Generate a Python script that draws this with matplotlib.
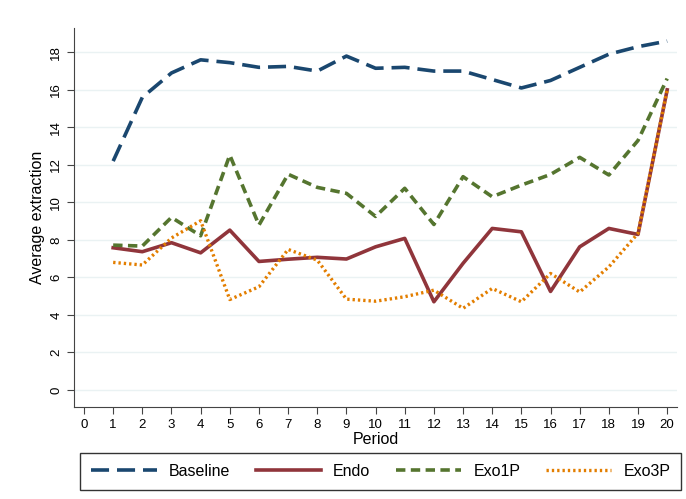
import matplotlib
matplotlib.use("Agg")
import matplotlib.pyplot as plt
import numpy as np

plt.rcParams['font.family'] = ['Liberation Sans', 'DejaVu Sans']

periods = list(range(1, 21))
baseline = [12.2, 15.6, 16.9, 17.6, 17.45, 17.2, 17.25, 17.0, 17.8, 17.15,
            17.2, 17.0, 17.0, 16.55, 16.1, 16.5, 17.2, 17.9, 18.3, 18.6]
endo = [7.58, 7.37, 7.85, 7.31, 8.52, 6.85, 6.97, 7.07, 6.98, 7.63,
        8.08, 4.7, 6.75, 8.61, 8.43, 5.25, 7.63, 8.61, 8.29, 16.0]
exo1p = [7.72, 7.67, 9.2, 8.22, 12.52, 8.79, 11.5, 10.8, 10.48, 9.25,
         10.75, 8.82, 11.37, 10.3, 10.92, 11.49, 12.4, 11.46, 13.3, 16.6]
exo3p = [6.8, 6.66, 8.1, 9.02, 4.82, 5.5, 7.49, 6.92, 4.84, 4.73,
         4.97, 5.32, 4.35, 5.41, 4.7, 6.21, 5.22, 6.56, 8.35, 16.0]

x_ticks = list(range(0, 21))
y_ticks = list(range(0, 20, 2))

fig = plt.figure(figsize=(6.86, 4.99), dpi=100)
ax = fig.add_axes([0.108, 0.184, 0.879, 0.76])

ax.plot(periods, baseline, color='#1a476f', lw=2.6, dashes=(5, 2.2), label='Baseline')
ax.plot(periods, endo, color='#90353b', lw=2.6, label='Endo')
ax.plot(periods, exo1p, color='#55752f', lw=2.6, dashes=(2.6, 1.5), label='Exo1P')
ax.plot(periods, exo3p, color='#e37e00', lw=2.4, dashes=(0.7, 0.9), label='Exo3P')

ax.set_xlim(-0.34, 20.34)
ax.set_ylim(-0.92, 19.3)
ax.set_xticks(x_ticks)
ax.set_yticks(y_ticks)
ax.grid(axis='y', color='#eaf2f3', lw=1)
ax.set_axisbelow(True)
for s in ['top', 'right']:
    ax.spines[s].set_visible(False)
for s in ['left', 'bottom']:
    ax.spines[s].set_color('#444444')
ax.tick_params(axis='both', labelsize=9.5, color='#444444', length=5)
ax.tick_params(axis='y', labelrotation=90)
for lab in ax.get_yticklabels():
    lab.set_va('center')

ax.set_xlabel('Period', fontsize=11.5, labelpad=1)
ax.set_ylabel('Average extraction', fontsize=11.5, labelpad=4)

leg = fig.legend(loc='center', bbox_to_anchor=(0.555, 0.055), ncol=4,
                 frameon=True, fancybox=False, edgecolor='black',
                 fontsize=11.5, handlelength=4.1, handletextpad=0.75,
                 columnspacing=1.6, borderpad=0.7)
leg.get_frame().set_linewidth(1)

fig.savefig('out.png', dpi=100)
